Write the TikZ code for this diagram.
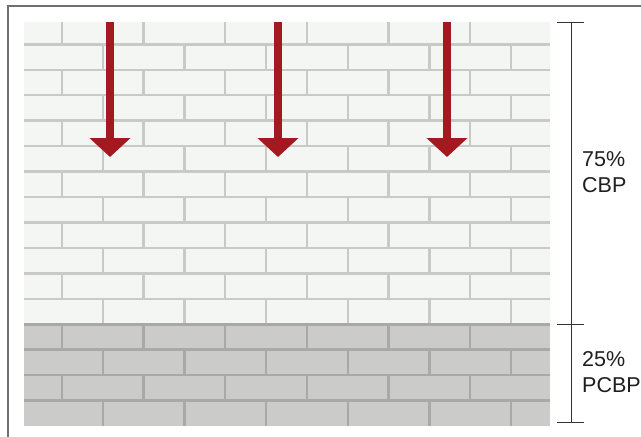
\documentclass[tikz,border=0pt]{standalone}
\usepackage{fontspec}
\setmainfont{Liberation Sans}
\usetikzlibrary{arrows.meta}
\definecolor{brickwhite}{HTML}{F4F6F3}
\definecolor{jointwhite}{HTML}{C9C9C7}
\definecolor{brickgrey}{HTML}{CBCCCA}
\definecolor{jointgrey}{HTML}{A9A9A8}
\definecolor{arrowred}{HTML}{A3191F}
\definecolor{framegrey}{HTML}{707070}
\tikzset{
  joint/.style={line width=2.5pt},
  flow/.style={arrowred,line width=8pt,-{Triangle[width=40pt,length=19pt]}},
  dimline/.style={draw=black!80,line width=1pt},
  dimlabel/.style={anchor=north west,inner sep=0pt,align=left,text=black!88,font=\fontsize{21.5}{26}\selectfont}
}
\begin{document}
\begin{tikzpicture}[x=1pt,y=-1pt]
	\useasboundingbox (0,0) rectangle (641,437);
	% frame
	\draw[framegrey,line width=2pt] (641,5.5) -- (7.5,5.5) -- (7.5,437);
	
	% wall
	\fill[brickwhite] (24,22) rectangle (550,324.25);
	\fill[brickgrey] (24,324.25) rectangle (550,426);
	\foreach \r in {1,...,16}{
		\pgfmathsetmacro{\ytop}{\r==1 ? 22 : 44.3+25.45*(\r-2)}
		\pgfmathsetmacro{\ybot}{44.3+25.45*(\r-1)}
		\pgfmathsetmacro{\xstart}{isodd(\r) ? 62 : 103}
		\ifnum\r<13 \def\jc{jointwhite}\else\def\jc{jointgrey}\fi
		\foreach \j in {0,...,5}
			\draw[joint,\jc] ({\xstart+81.6*\j},\ytop) -- ({\xstart+81.6*\j},\ybot);
		\ifnum\r<12 \def\hc{jointwhite}\else\def\hc{jointgrey}\fi
		\ifnum\r<16 \draw[joint,\hc] (24,\ybot) -- (550,\ybot);\fi
	}
	
	% arrows
	\foreach \x [count=\i] in {110,278,447}{
		\coordinate (push\i) at (\x,22);
		\coordinate (tip\i) at (\x,157);
		\draw[flow] (push\i) -- (tip\i);
	}
	
	% dimensions
	\coordinate (dimtop) at (571,22);
	\coordinate (dimmid) at (571,324);
	\coordinate (dimbot) at (571,422);
	\draw[dimline] (dimtop) -- (dimbot);
	\foreach \c in {dimtop,dimmid,dimbot}
		\draw[dimline] ([xshift=-14pt]\c) -- ([xshift=13pt]\c);
	\node[dimlabel] (cbp) at (582,151.5) {75\%\\CBP};
	\node[dimlabel] (pcbp) at (582,351.5) {25\%\\PCBP};
\end{tikzpicture}
\end{document}
